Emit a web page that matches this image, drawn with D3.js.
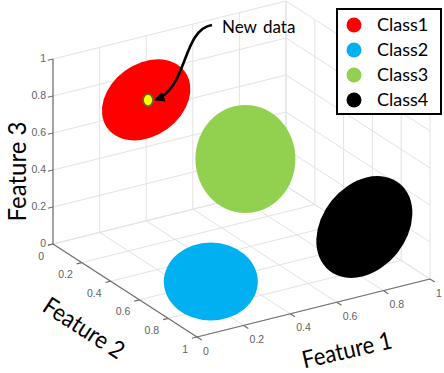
<!DOCTYPE html>
<html><head><meta charset="utf-8">
<script src="https://cdn.jsdelivr.net/npm/d3@7"></script>
<style>body{margin:0;background:#fff}svg{display:block}</style>
</head><body>
<svg id="c" width="444" height="373"></svg>
<script>
// ---- data ----
const ticks = [0, 0.2, 0.4, 0.6, 0.8, 1];
const tickLabels = ["0", "0.2", "0.4", "0.6", "0.8", "1"];
const classNames = ["Class1", "Class2", "Class3", "Class4"];
const classColors = ["#ff0000", "#00b0f0", "#92d050", "#000000"];
// 3D centres (Feature 1, Feature 2, Feature 3) of each class blob
const classF1 = [0.27, 0.22, 0.56, 0.78];
const classF2 = [0.21, 0.74, 0.43, 0.90];
const classF3 = [0.80, 0.10, 0.50, 0.30];
// new data point
const newData = [0.275, 0.215, 0.80];
const axisTitles = ["Feature 1", "Feature 2", "Feature 3"];

// ---- projection (oblique 3D view) via d3 scales ----
const origin = [53, 244];
const fxU = d3.scaleLinear().domain([0, 1]).range([0, 233]);
const fxV = d3.scaleLinear().domain([0, 1]).range([0, -58]);
const fyU = d3.scaleLinear().domain([0, 1]).range([0, 144]);
const fyV = d3.scaleLinear().domain([0, 1]).range([0, 93]);
const fzV = d3.scaleLinear().domain([0, 1]).range([0, -185]);
function P(x, y, z) {
  return [origin[0] + fxU(x) + fyU(y), origin[1] + fxV(x) + fyV(y) + fzV(z)];
}

const svg = d3.select("#c");
const line = d3.line();
const FONT = "Lato, 'Noto Sans', sans-serif";

// ---- grid ----
const grid = svg.append("g").attr("stroke", "#e3e3e3").attr("stroke-width", 1).attr("fill", "none");
ticks.forEach(t => {
  grid.append("path").attr("d", line([P(t, 0, 0), P(t, 1, 0)]));
  grid.append("path").attr("d", line([P(0, t, 0), P(1, t, 0)]));
  grid.append("path").attr("d", line([P(t, 0, 0), P(t, 0, 1)]));
  grid.append("path").attr("d", line([P(0, 0, t), P(1, 0, t)]));
  grid.append("path").attr("d", line([P(1, t, 0), P(1, t, 1)]));
  grid.append("path").attr("d", line([P(1, 0, t), P(1, 1, t)]));
});

// ---- axes ----
const ax = svg.append("g").attr("stroke", "#6e6e6e").attr("stroke-width", 1.2).attr("fill", "none");
ax.append("path").attr("d", line([P(0, 0, 0), P(0, 0, 1)]));
ax.append("path").attr("d", line([P(0, 0, 0), P(0, 1, 0)]));
ax.append("path").attr("d", line([P(0, 1, 0), P(1, 1, 0)]));
const tl = 0.022;
ticks.forEach(t => {
  ax.append("path").attr("d", line([P(0, 0, t), P(-tl, 0, t)]));
  ax.append("path").attr("d", line([P(0, t, 0), P(-tl, t, 0)]));
  ax.append("path").attr("d", line([P(t, 1, 0), P(t, 1 + tl * 1.5, 0)]));
});

const tickG = svg.append("g").attr("font-family", "'Liberation Sans', Arial, sans-serif")
  .attr("font-size", 10.5).attr("fill", "#626262");
ticks.forEach((t, i) => {
  let p = P(0, 0, t);
  tickG.append("text").attr("x", p[0] - 7).attr("y", p[1] - 1).attr("dy", "0.35em")
    .attr("text-anchor", "end").text(tickLabels[i]);
  p = P(0, t, 0);
  tickG.append("text").attr("x", p[0] - 9).attr("y", p[1] + 12).attr("dy", "0.35em")
    .attr("text-anchor", "end").text(tickLabels[i]);
  p = P(t, 1, 0);
  tickG.append("text").attr("x", p[0] + 6).attr("y", p[1] + 14).attr("dy", "0.35em")
    .attr("text-anchor", "start").text(tickLabels[i]);
});

// ---- axis titles ----
const titleG = svg.append("g").attr("font-family", FONT)
  .attr("fill", "#000").attr("text-anchor", "middle");
titleG.append("text").attr("font-size", 22).attr("transform", "translate(347,350) rotate(-13) scale(1,1.1)").attr("dy", "0.35em").text(axisTitles[0]);
titleG.append("text").attr("font-size", 22).attr("transform", "translate(84,328) rotate(33) scale(1,1.1)").attr("dy", "0.35em").text(axisTitles[1]);
titleG.append("text").attr("font-size", 24).attr("transform", "translate(17,171.5) rotate(-90) scale(1,1.06)").attr("dy", "0.35em").text(axisTitles[2]);

// ---- class blobs (projected discs) ----
const blobShape = [ // rx, ry, rotation (deg) of the drawn disc
  [48, 36, -36], [47, 39, 0], [50, 54, 0], [56, 42, -51]
];
const blobs = svg.append("g");
classNames.forEach((c, i) => {
  const p = P(classF1[i], classF2[i], classF3[i]);
  blobs.append("ellipse").attr("cx", 0).attr("cy", 0)
    .attr("rx", blobShape[i][0]).attr("ry", blobShape[i][1])
    .attr("transform", `translate(${p[0]},${p[1]}) rotate(${blobShape[i][2]})`)
    .attr("fill", classColors[i]);
});

// new data point
const nd = P(newData[0], newData[1], newData[2]);
svg.append("ellipse").attr("cx", nd[0]).attr("cy", nd[1]).attr("rx", 5).attr("ry", 6)
  .attr("fill", "#ffff00").attr("stroke", "#6b6b10").attr("stroke-width", 1.8);

// arrow
svg.append("defs").append("marker").attr("id", "ah").attr("viewBox", "0 0 10 10")
  .attr("refX", 8).attr("refY", 5).attr("markerWidth", 4).attr("markerHeight", 4)
  .attr("orient", "auto").append("path").attr("d", "M0,0 L10,5 L0,10 z").attr("fill", "#000");
const tail = [212, 25];
const head = [nd[0] + 8, nd[1] - 0.5];
svg.append("path")
  .attr("d", `M${tail[0]},${tail[1]} C${tail[0] - 30},${tail[1] + 5} ${head[0] + 32},${head[1] - 12} ${head[0]},${head[1]}`)
  .attr("fill", "none").attr("stroke", "#000").attr("stroke-width", 2.6).attr("marker-end", "url(#ah)");
svg.append("text").attr("x", 222).attr("y", 33).attr("font-family", FONT)
  .attr("font-size", 17).attr("word-spacing", 2).attr("fill", "#000").text("New data");

// ---- legend ----
const lg = svg.append("g");
lg.append("rect").attr("x", 337).attr("y", 9).attr("width", 104).attr("height", 105)
  .attr("fill", "#fff").attr("stroke", "#000").attr("stroke-width", 2);
classNames.forEach((c, i) => {
  const y = 25 + i * 25;
  lg.append("circle").attr("cx", 354).attr("cy", y).attr("r", 7.5).attr("fill", classColors[i]);
  lg.append("text").attr("x", 377).attr("y", y).attr("dy", "0.36em")
    .attr("font-family", FONT).attr("font-size", 18)
    .attr("fill", "#000").text(c);
});
</script>
</body></html>
